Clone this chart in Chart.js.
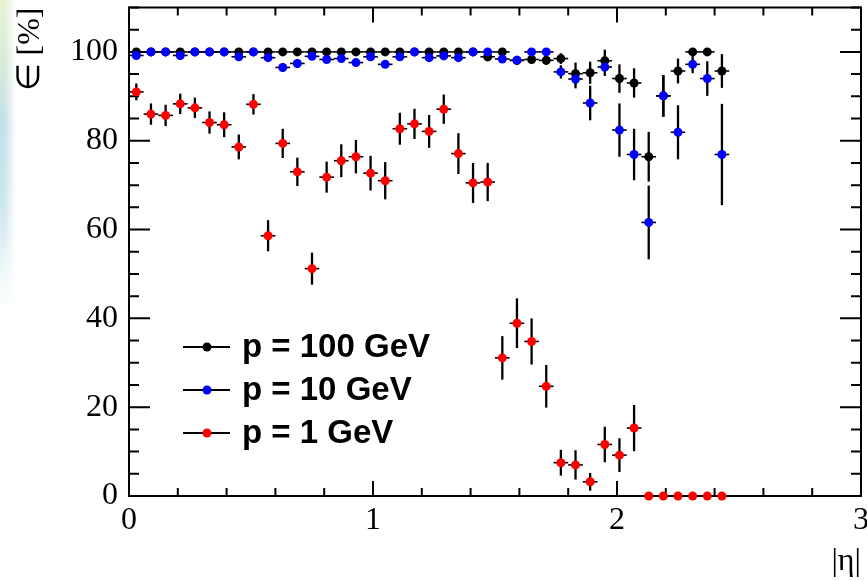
<!DOCTYPE html>
<html>
<head>
<meta charset="utf-8">
<script src="https://cdn.jsdelivr.net/npm/chart.js@4.4.1/dist/chart.umd.min.js"></script>
<style>
    body { margin: 0; background: #fff; }
    #caixa { position: relative; width: 867px; height: 581px; }
    #mancha {
        position: absolute; left: 0; top: 0; width: 16px; height: 310px;
        background: linear-gradient(to bottom, #e8f3d4 0%, #d9ecd8 18%, #c6dfe9 40%, #cfe6ee 65%, #eef7f9 88%, #ffffff 100%);
        -webkit-mask-image: linear-gradient(to right, #000 30%, transparent 100%);
    }
    #grafEf { position: absolute; left: 0; top: 0; }
</style>
</head>
<body>
<div id="caixa">
    <div id="mancha"></div>
    <canvas id="grafEf" width="867" height="581"></canvas>
</div>
<script>
// centros dos bins em |eta|
const eta = [0.03, 0.09, 0.15, 0.21, 0.27, 0.33, 0.39, 0.45, 0.51, 0.57,
             0.63, 0.69, 0.75, 0.81, 0.87, 0.93, 0.99, 1.05, 1.11, 1.17,
             1.23, 1.29, 1.35, 1.41, 1.47, 1.53, 1.59, 1.65, 1.71, 1.77,
             1.83, 1.89, 1.95, 2.01, 2.07, 2.13, 2.19, 2.25, 2.31, 2.37, 2.43]
const meioBin = 0.03

// eficiencia [%] para cada momento
const ef100 = [100, 100, 100, 100, 100, 100, 100, 100, 100, 100,
               100, 100, 100, 100, 100, 100, 100, 100, 100, 100,
               100, 100, 100, 100, 98.9, 100, 98.1, 98.3, 98.1, 98.5,
               95.1, 95.3, 98.0, 94.0, 93.0, 76.4, 90.1, 95.7, 100, 100, 95.7]
const ef10 = [99.2, 100, 100, 99.2, 100, 100, 100, 98.9, 100, 98.7,
              96.5, 97.4, 99.0, 98.3, 98.5, 97.6, 98.9, 97.2, 98.9, 100,
              98.7, 99.1, 98.7, 100, 100, 98.4, 98.1, 100, 100, 95.5,
              93.9, 88.5, 96.6, 82.4, 76.9, 61.6, 90.1, 81.9, 97.2, 94.0, 76.9]
const ef1 = [91.0, 86.0, 85.7, 88.3, 87.4, 84.1, 83.6, 78.6, 88.2, 58.6,
             79.4, 73.0, 51.2, 71.8, 75.5, 76.4, 72.7, 71.0, 82.7, 83.8,
             82.1, 87.1, 77.1, 70.5, 70.7, 31.1, 38.9, 34.8, 24.7, 7.5,
             7.0, 3.2, 11.6, 9.2, 15.3, 0, 0, 0, 0, 0, 0]

// erros (simetricos, aproximados)
const err100 = [0.3, 0.3, 0.3, 0.3, 0.3, 0.3, 0.3, 0.3, 0.3, 0.3,
                0.3, 0.3, 0.3, 0.3, 0.3, 0.3, 0.3, 0.3, 0.3, 0.3,
                0.3, 0.3, 0.3, 0.3, 1.0, 0.5, 1.0, 1.0, 1.0, 1.2,
                2.5, 2.5, 2.5, 3.2, 3.3, 5.6, 4.7, 2.8, 0.8, 0.8, 3.8]
const err10 = [0.5, 0.3, 0.3, 0.5, 0.3, 0.3, 0.3, 0.6, 0.3, 0.6,
               1.0, 0.9, 0.6, 0.7, 0.7, 0.8, 0.6, 0.8, 0.6, 0.3,
               0.7, 0.6, 0.7, 0.3, 0.3, 0.8, 0.9, 0.3, 0.3, 1.5,
               2.1, 3.9, 2.0, 6.0, 5.8, 8.3, 4.7, 6.1, 2.0, 3.9, 11.4]
const err1 = [1.9, 2.4, 2.4, 2.3, 2.3, 2.5, 2.8, 2.8, 2.3, 3.5,
              3.3, 3.2, 3.6, 3.5, 3.7, 3.75, 3.9, 4.2, 3.6, 3.4,
              3.7, 3.3, 4.6, 4.5, 4.3, 4.9, 5.6, 5.2, 4.8, 2.9,
              3.3, 2.0, 4.0, 3.8, 5.2, 0, 0, 0, 0, 0, 0]

const nomes = ['p = 100 GeV', 'p = 10 GeV', 'p = 1 GeV']
const cores = ['#000000', '#0000ff', '#ff0000']
const series = [ef100, ef10, ef1]
const erros = [err100, err10, err1]

const xTicks = [0, 1, 2, 3]
const yTicks = [0, 20, 40, 60, 80, 100]

const grafEf = document.getElementById('grafEf')

// moldura com ticks para dentro (estilo ROOT)
const moldura = {
    id: 'moldura',
    beforeDatasetsDraw(chart) {
        const { ctx, chartArea: a, scales: { x, y } } = chart
        ctx.save()
        ctx.strokeStyle = '#000'
        ctx.lineWidth = 2
        ctx.strokeRect(a.left, a.top, a.right - a.left, a.bottom - a.top)
        ctx.beginPath()
        for (let k = 0; k <= 15; k++) {
            const px = x.getPixelForValue(k / 5)
            const t = k % 5 === 0 ? 15 : 8
            ctx.moveTo(px, a.bottom); ctx.lineTo(px, a.bottom - t)
            ctx.moveTo(px, a.top); ctx.lineTo(px, a.top + t)
        }
        for (let k = 0; k <= 22; k++) {
            const py = y.getPixelForValue(k * 5)
            const t = k % 4 === 0 ? 21 : 10
            ctx.moveTo(a.left, py); ctx.lineTo(a.left + t, py)
            ctx.moveTo(a.right, py); ctx.lineTo(a.right - t, py)
        }
        ctx.stroke()
        ctx.restore()
    }
}

const barrasErro = {
    id: 'barrasErro',
    beforeDatasetsDraw(chart) {
        const { ctx, scales: { x, y } } = chart
        ctx.save()
        ctx.strokeStyle = '#000'
        chart.data.datasets.forEach((ds, k) => {
            ds.data.forEach((pt, i) => {
                const px = x.getPixelForValue(pt.x)
                const py = y.getPixelForValue(pt.y)
                ctx.lineWidth = 1.6
                ctx.beginPath()
                ctx.moveTo(x.getPixelForValue(pt.x - meioBin), py)
                ctx.lineTo(x.getPixelForValue(pt.x + meioBin), py)
                ctx.stroke()
                const e = erros[k][i]
                if (e > 0) {
                    ctx.lineWidth = 2.3
                    ctx.beginPath()
                    ctx.moveTo(px, y.getPixelForValue(pt.y - e))
                    ctx.lineTo(px, y.getPixelForValue(pt.y + e))
                    ctx.stroke()
                }
            })
        })
        ctx.restore()
    }
}

const legenda = {
    id: 'legenda',
    afterDraw(chart) {
        const { ctx } = chart
        ctx.save()
        ctx.font = 'bold 33px "Liberation Sans"'
        ctx.textBaseline = 'alphabetic'
        ctx.textAlign = 'left'
        chart.data.datasets.forEach((ds, k) => {
            const ly = 347 + 43 * k
            ctx.strokeStyle = '#000'
            ctx.lineWidth = 2
            ctx.beginPath()
            ctx.moveTo(183, ly); ctx.lineTo(230, ly)
            ctx.stroke()
            ctx.fillStyle = ds.backgroundColor
            ctx.beginPath()
            ctx.arc(207, ly, 4.5, 0, Math.PI * 2)
            ctx.fill()
            ctx.fillStyle = '#000'
            ctx.fillText(ds.label, 242, ly + 10)
        })
        ctx.restore()
    }
}

const fonteEixo = { family: 'Liberation Serif', size: 32 }

new Chart(grafEf, {
    type: 'scatter',
    data: {
        datasets: series.map((s, k) => ({
            label: nomes[k],
            data: eta.map((v, i) => ({ x: v, y: s[i] })),
            backgroundColor: cores[k],
            borderWidth: 0,
            pointRadius: 4.5,
            pointHoverRadius: 4.5,
            order: series.length - k, // preto embaixo, vermelho em cima
            clip: false
        }))
    },
    options: {
        responsive: false,
        animation: false,
        layout: { autoPadding: false, padding: { top: 7.5, right: 6, left: 0, bottom: 0 } },
        plugins: {
            legend: { display: false },
            tooltip: { enabled: false }
        },
        scales: {
            x: {
                type: 'linear',
                min: 0,
                max: 3,
                afterFit: (s) => { s.height = 85; s.paddingLeft = 0; s.paddingRight = 0 },
                afterBuildTicks: (s) => { s.ticks = xTicks.map(v => ({ value: v })) },
                grid: { display: false, drawTicks: false },
                border: { display: false },
                ticks: { font: fonteEixo, color: '#000', padding: 5, maxRotation: 0, autoSkip: false },
                title: { display: true, text: '|η|', align: 'end', font: fonteEixo, color: '#000', padding: 0 }
            },
            y: {
                type: 'linear',
                min: 0,
                max: 110,
                afterFit: (s) => { s.width = 129; s.paddingTop = 0; s.paddingBottom = 0 },
                afterBuildTicks: (s) => { s.ticks = yTicks.map(v => ({ value: v })) },
                grid: { display: false, drawTicks: false },
                border: { display: false },
                ticks: { font: fonteEixo, color: '#000', padding: 11 },
                title: { display: true, text: '∈ [%]', align: 'end', font: fonteEixo, color: '#000', padding: { top: 11, bottom: 0 } }
            }
        }
    },
    plugins: [moldura, barrasErro, legenda]
})
</script>
</body>
</html>
